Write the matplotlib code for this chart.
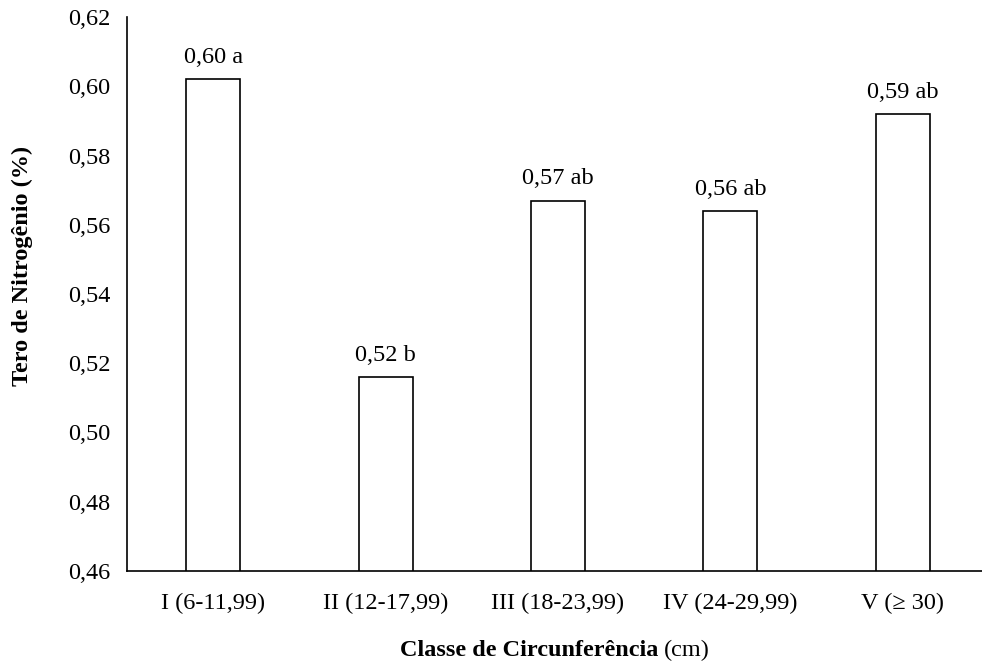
import matplotlib.pyplot as plt

# dados
classes = ['I (6-11,99)', 'II (12-17,99)', 'III (18-23,99)', 'IV (24-29,99)', 'V (\u2265 30)']
teor_n = [0.602, 0.516, 0.567, 0.564, 0.592]
rotulos = ['0,60 a', '0,52 b', '0,57 ab', '0,56 ab', '0,59 ab']
y_ticks = [0.46, 0.48, 0.50, 0.52, 0.54, 0.56, 0.58, 0.60, 0.62]

plt.rcParams['font.family'] = ['Liberation Serif', 'DejaVu Serif']
fs = 17.5

fig = plt.figure(figsize=(9.82, 6.72), dpi=100)
ax = fig.add_axes([127 / 982, 1 - 571 / 672, 1 - 127 / 982, (571 - 17) / 672])

x = list(range(len(classes)))
ax.bar(x, teor_n, width=0.313, color='white', edgecolor='black', linewidth=1.2)

for xi, v, r in zip(x, teor_n, rotulos):
    ax.annotate(r, (xi, v), xytext=(0, 8), textcoords='offset points',
                ha='center', va='bottom', fontsize=fs)

ax.set_xlim(-0.5, 4.46)
ax.set_ylim(0.46, 0.62)
ax.set_yticks(y_ticks)
ax.set_yticklabels([f'{t:.2f}'.replace('.', ',') for t in y_ticks], fontsize=fs)
ax.set_xticks(x)
ax.set_xticklabels(classes, fontsize=fs)
ax.tick_params(length=0)
ax.tick_params(axis='y', pad=12)
ax.tick_params(axis='x', pad=16)

ax.spines['top'].set_visible(False)
ax.spines['right'].set_visible(False)
ax.spines['left'].set_linewidth(1.2)
ax.spines['bottom'].set_linewidth(1.2)

fig.text(22 / 982, 1 - 266 / 672, 'Tero de Nitrogênio (%)', rotation=90,
         ha='center', va='center', fontsize=fs, fontweight='bold')

# rótulo do eixo x: parte em negrito e parte normal
t1 = fig.text(0.5, 1 - 650 / 672, 'Classe de Circunferência ', ha='left', va='center',
              fontsize=fs, fontweight='bold')
t2 = fig.text(0.5, 1 - 650 / 672, '(cm)', ha='left', va='center', fontsize=fs)
fig.canvas.draw()
r = fig.canvas.get_renderer()
w1 = t1.get_window_extent(r).width / fig.bbox.width
w2 = t2.get_window_extent(r).width / fig.bbox.width
centro = 555 / 982
inicio = centro - (w1 + w2) / 2
t1.set_position((inicio, 1 - 650 / 672))
t2.set_position((inicio + w1, 1 - 650 / 672))

fig.savefig('out.png', dpi=100)
